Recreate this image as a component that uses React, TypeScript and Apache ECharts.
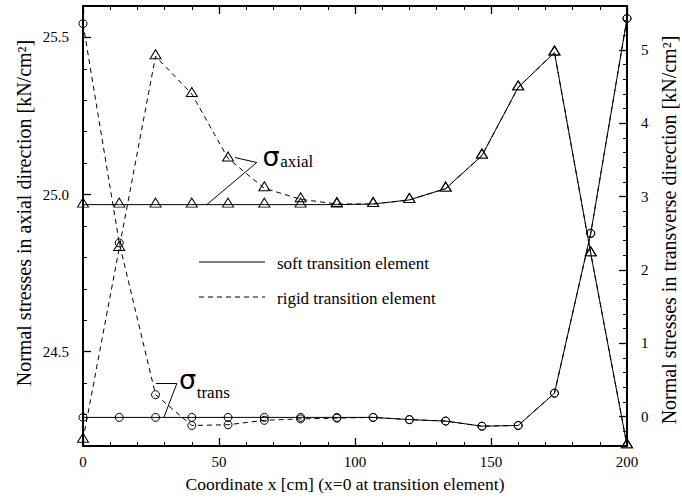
import { useEffect, useRef } from 'react';
import * as echarts from 'echarts';

// ---- data ----
const xCoords = [0, 13.33, 26.67, 40, 53.33, 66.67, 80, 93.33, 106.67, 120, 133.33, 146.67, 160, 173.33, 186.67, 200];
const axialSoft = [24.968, 24.968, 24.968, 24.968, 24.968, 24.968, 24.968, 24.968, 24.970, 24.983, 25.019, 25.124, 25.341, 25.452, 24.813, 24.202];
const axialRigid = [24.22, 24.83, 25.44, 25.32, 25.115, 25.02, 24.985, 24.97, 24.970, 24.983, 25.019, 25.124, 25.341, 25.452, 24.813, 24.202];
const transSoft = [-0.01, -0.01, -0.01, -0.01, -0.01, -0.01, -0.01, -0.01, -0.01, -0.04, -0.06, -0.13, -0.12, 0.32, 2.5, 5.43];
const transRigid = [5.36, 2.37, 0.3, -0.12, -0.11, -0.05, -0.03, -0.02, -0.01, -0.04, -0.06, -0.13, -0.12, 0.32, 2.5, 5.43];

// ---- ticks ----
const xMajorTicks = [0, 50, 100, 150, 200];
const xMinorTicks = [10, 20, 30, 40, 60, 70, 80, 90, 110, 120, 130, 140, 160, 170, 180, 190];
const leftMajorTicks = [24.5, 25.0, 25.5];
const leftMinorTicks = [24.3, 24.4, 24.6, 24.7, 24.8, 24.9, 25.1, 25.2, 25.3, 25.4];
const rightMajorTicks = [0, 1, 2, 3, 4, 5];
const rightMinorTicks = [-0.2, 0.2, 0.4, 0.6, 0.8, 1.2, 1.4, 1.6, 1.8, 2.2, 2.4, 2.6, 2.8, 3.2, 3.4, 3.6, 3.8, 4.2, 4.4, 4.6, 4.8, 5.2, 5.4];

// ---- texts ----
const legendNames = ['soft transition element', 'rigid transition element'];
const xTitle = 'Coordinate x [cm] (x=0 at transition element)';
const leftTitle = 'Normal stresses in axial direction [kN/cm²]';
const rightTitle = 'Normal stresses in transverse direction [kN/cm²]';

const FONT = 'Liberation Serif, serif';
const BLACK = '#000';

export default function App() {
  const ref = useRef<HTMLDivElement>(null);

  useEffect(() => {
    document.body.style.margin = '0';
    const chart = echarts.init(ref.current!, null, { renderer: 'svg' });

    const axisLineOn = { show: true, onZero: false, lineStyle: { color: BLACK, width: 2 } };
    const axisLineOff = { show: false, onZero: false };
    const majorTick = (vals: number[]) => ({ show: true, inside: true, length: 8, customValues: vals, lineStyle: { color: BLACK, width: 1.3 } });
    const minorTick = (vals: number[]) => ({ show: true, inside: true, length: 4, customValues: vals, lineStyle: { color: BLACK, width: 1 } });
    const base = { type: 'value', splitLine: { show: false }, axisPointer: { show: false } };
    const labelStyle = { color: BLACK, fontFamily: FONT, fontSize: 15 };

    const pairs = (vals: number[]) => xCoords.map((x, i) => [x, vals[i]]);
    const mkSeries = (name: string, vals: number[], yi: number, symbol: string, size: any, dashed: boolean, offset: number[]) => ({
      type: 'line',
      name,
      xAxisIndex: 0,
      yAxisIndex: yi,
      data: pairs(vals),
      symbol,
      symbolSize: size,
      symbolOffset: offset,
      showSymbol: true,
      showAllSymbol: true,
      silent: true,
      emphasis: { disabled: true },
      lineStyle: { color: BLACK, width: 1, type: dashed ? [5, 4] : 'solid' },
      itemStyle: { color: 'rgba(0,0,0,0)', borderColor: BLACK, borderWidth: 1 },
      z: dashed ? 3 : 4,
    });

    chart.setOption({
      animation: false,
      backgroundColor: '#fff',
      textStyle: { fontFamily: FONT },
      grid: { left: 83, right: 55, top: 6, bottom: 56, containLabel: false },
      xAxis: [
        { ...base, position: 'bottom', min: 0, max: 200, axisLine: axisLineOn, axisTick: majorTick(xMajorTicks),
          axisLabel: { ...labelStyle, customValues: xMajorTicks, margin: 8 } },
        { ...base, position: 'bottom', min: 0, max: 200, axisLine: axisLineOff, axisTick: minorTick(xMinorTicks), axisLabel: { show: false } },
        { ...base, position: 'top', min: 0, max: 200, axisLine: axisLineOn, axisTick: majorTick(xMajorTicks), axisLabel: { show: false } },
        { ...base, position: 'top', min: 0, max: 200, axisLine: axisLineOff, axisTick: minorTick(xMinorTicks), axisLabel: { show: false } },
      ],
      yAxis: [
        { ...base, position: 'left', min: 24.2, max: 25.6, axisLine: axisLineOn, axisTick: majorTick(leftMajorTicks),
          axisLabel: { ...labelStyle, customValues: leftMajorTicks, margin: 14, formatter: (v: number) => v.toFixed(1) } },
        { ...base, position: 'left', min: 24.2, max: 25.6, axisLine: axisLineOff, axisTick: minorTick(leftMinorTicks), axisLabel: { show: false } },
        { ...base, position: 'right', min: -0.4, max: 5.6, axisLine: axisLineOn, axisTick: majorTick(rightMajorTicks),
          axisLabel: { ...labelStyle, customValues: rightMajorTicks, margin: 14, formatter: (v: number) => String(Math.round(v)) } },
        { ...base, position: 'right', min: -0.4, max: 5.6, axisLine: axisLineOff, axisTick: minorTick(rightMinorTicks), axisLabel: { show: false } },
      ],
      series: [
        mkSeries(legendNames[0] + ' axial', axialSoft, 0, 'triangle', [11, 9], false, [0, -2]),
        mkSeries(legendNames[1] + ' axial', axialRigid, 0, 'triangle', [11, 9], true, [0, -2]),
        mkSeries(legendNames[0] + ' trans', transSoft, 2, 'circle', 8, false, [0, 0]),
        mkSeries(legendNames[1] + ' trans', transRigid, 2, 'circle', 8, true, [0, 0]),
      ],
    });

    const pL = (x: number, y: number) => chart.convertToPixel({ seriesIndex: 0 }, [x, y]) as number[];
    const pR = (x: number, y: number) => chart.convertToPixel({ seriesIndex: 2 }, [x, y]) as number[];

    const ln = (a: number[], b: number[], dash?: number[]) => ({
      type: 'line', silent: true,
      shape: { x1: a[0], y1: a[1], x2: b[0], y2: b[1] },
      style: { stroke: BLACK, lineWidth: 1, lineDash: dash || null },
    });
    const txt = (text: string, pos: number[], size: number, family: string = FONT) => ({
      type: 'text', silent: true, x: pos[0], y: pos[1],
      style: { text, fill: BLACK, fontFamily: family, fontSize: size, align: 'left', verticalAlign: 'middle', textAlign: 'left', textVerticalAlign: 'middle' },
    });
    const title = (text: string, x: number, y: number, size: number, rotation: number) => ({
      type: 'text', silent: true, x, y, rotation,
      style: { text, fill: BLACK, fontFamily: FONT, fontSize: size, align: 'center', verticalAlign: 'middle', textAlign: 'center', textVerticalAlign: 'middle' },
    });

    // sigma axial annotation
    const aStart = pL(55.8, 25.118);
    const aVertex = pL(63.9, 25.102);
    const aEnd = pL(45.5, 24.968);
    const aSigma = pL(66.0, 25.12);
    const aSub = pL(72.5, 25.104);
    // sigma trans annotation
    const tStart = pR(26.8, 0.452);
    const tVertex = pR(34.5, 0.452);
    const tEnd = pR(29.7, -0.012);
    const tSigma = pR(35.3, 0.501);
    const tSub = pR(41.8, 0.336);

    const SIGMA_FONT = 'DejaVu Sans, sans-serif';
    const graphics: any[] = [
      ln(aStart, aVertex), ln(aVertex, aEnd),
      txt('σ', aSigma, 27, SIGMA_FONT), txt('axial', aSub, 17),
      ln(tStart, tVertex), ln(tVertex, tEnd),
      txt('σ', tSigma, 27, SIGMA_FONT), txt('trans', tSub, 17),
      // legend
      ln([199, 262], [265, 262]),
      ln([199, 297], [265, 297], [5, 4]),
      txt(legendNames[0], [277, 263], 17),
      txt(legendNames[1], [277, 298], 17),
      // axis titles
      title(xTitle, 345, 484, 17.5, 0),
      title(leftTitle, 24, 213, 20, Math.PI / 2),
      title(rightTitle, 669, 230, 20, Math.PI / 2),
    ];
    chart.setOption({ graphic: graphics });

    return () => chart.dispose();
  }, []);

  return <div ref={ref} style={{ width: 682, height: 502 }} />;
}
